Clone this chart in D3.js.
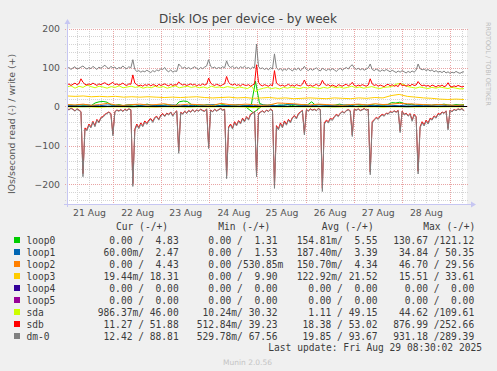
<!DOCTYPE html>
<meta charset="utf-8">
<style>
body{ margin:0; background:#f0f0f0; }
svg{ display:block; background:#f0f0f0; }
text{ font-family:"DejaVu Sans", sans-serif; }
.mono{ font-family:"DejaVu Sans Mono", monospace; font-size:9.6px; fill:#3c3c3c; white-space:pre; }
</style>
<svg width="497" height="371"></svg>
<script src="https://d3js.org/d3.v7.min.js"></script>
<script>

var names  = ["loop0","loop1","loop2","loop3","loop4","loop5","sda","sdb","dm-0"];
var colors = ["#00cc00","#0066b3","#ff8000","#ffcc00","#330099","#990099","#ccff00","#ff0000","#808080"];

// hourly samples (200), Aug 21 01:00 -> Aug 29 08:00
var dm0Write = [97,100,95,99,102,96,98,101,104,99, 96,100,97,103,99,95,101,98,102,106,
  100,97,103,99,101,96,100,98,104,99, 97,102,99,120,95,90,92,88,91,89,
  93,90,87,92,89,94,91,97,95,100, 92,89,94,88,91,90,109,103,98,101,
  97,100,96,99,102,98,95,100,97,101, 104,120,103,99,101,97,100,98,102,99,
  117,104,100,103,98,101,97,102,99,103, 98,100,96,101,99,160,102,97,99,95,
  98,94,100,96,135,99,94,97,92,96, 93,98,95,91,97,94,99,92,96,103,
  95,92,97,93,96,99,94,91,98,95, 92,96,93,97,94,90,95,98,93,97,
  100,96,103,107,99,95,98,94,97,93, 96,99,109,95,92,96,93,90,94,91,
  95,92,89,93,90,87,91,88,92,89, 86,90,87,91,88,93,109,97,94,96,
  92,95,91,94,89,92,88,90,87,91, 86,89,85,88,86,90,87,85,88,89];
var dm0Read = [6,9,5,8,12,7,10,14,180,58, 62,48,55,40,52,35,42,30,28,22,
  18,15,20,75,14,10,12,9,13,8, 11,7,9,205,62,48,57,45,52,40,
  46,38,33,41,30,27,35,24,20,26, 18,22,15,25,17,12,120,16,20,13,
  18,11,15,9,14,10,12,8,11,13, 7,108,10,14,8,12,9,6,10,8,
  185,55,48,58,42,50,38,45,32,40, 28,35,22,18,14,180,20,15,12,16,
  10,13,8,11,210,52,60,45,55,40, 48,35,42,30,25,32,20,15,11,73,
  9,12,7,10,8,11,6,9,218,45, 38,42,32,36,28,22,26,18,14,17,
  11,9,12,77,8,10,7,11,9,6, 10,8,175,42,35,30,33,26,22,25,
  18,20,14,16,12,15,11,67,13,22, 18,25,20,38,22,28,173,55,42,50,
  38,45,32,35,26,30,20,22,15,18, 12,60,10,14,8,11,7,9,6,12];
var sdbWrite = [55,58,54,57,60,56,59,71,62,57, 55,58,56,60,57,54,58,56,59,61,
  57,55,59,62,56,58,55,57,60,56, 54,58,57,81,60,56,53,55,52,56,
  54,57,53,56,55,52,57,54,56,58, 55,53,57,54,56,55,63,58,55,57,
  54,56,58,55,57,53,56,54,58,55, 57,73,60,56,54,57,55,53,56,58,
  77,62,57,55,58,54,56,53,57,55, 54,56,52,55,58,107,62,55,53,56,
  54,52,56,53,92,60,56,53,55,52, 54,57,53,55,52,56,54,53,57,68,
  56,53,55,52,54,57,53,55,67,58, 54,56,52,55,53,51,56,54,52,55,
  57,53,56,62,54,52,55,53,56,54, 52,55,71,58,54,56,52,55,53,51,
  55,57,53,56,52,54,51,60,53,55, 52,56,53,57,54,55,64,57,53,55,
  52,54,51,55,53,50,54,52,55,51, 53,61,52,50,53,51,54,52,50,52];
var sdbRead = [5,8,4,7,11,6,9,13,172,55, 59,45,52,38,49,33,40,28,26,20,
  17,14,18,71,13,9,11,8,12,7, 10,6,8,198,58,45,54,42,49,37,
  43,35,31,38,28,25,33,22,18,24, 17,20,14,23,16,11,114,15,18,12,
  17,10,14,8,13,9,11,7,10,12, 6,102,9,13,7,11,8,5,9,7,
  178,52,45,55,39,47,36,42,30,37, 26,33,20,17,13,172,18,14,11,15,
  9,12,7,10,202,49,57,42,52,37, 45,33,39,28,23,30,18,14,10,69,
  8,11,6,9,7,10,5,8,210,42, 35,39,30,33,26,20,24,17,13,16,
  10,8,11,73,7,9,6,10,8,5, 9,7,168,39,33,28,31,24,20,23,
  17,18,13,15,11,14,10,63,12,20, 17,23,18,35,20,26,166,52,39,47,
  35,42,30,33,24,28,18,20,14,17, 11,56,9,13,7,10,6,8,5,11];

// two-hourly samples (100)
var sdaWrite = [50,53,47,52,49,55,51,48,52,50, 47,51,49,53,48,50,52,49,51,47,
  50,48,52,49,51,47,50,53,48,50, 52,49,51,48,50,47,52,49,50,48,
  51,49,47,50,48,46,52,38,44,47, 49,46,48,45,49,47,50,48,46,49,
  47,50,48,46,49,47,51,48,50,47, 49,52,48,50,47,49,51,48,46,49,
  50,51,57,59,56,51,49,47,50,48, 46,49,47,50,48,46,49,47,45,46];
var loop0Write = [3,4,2,5,3,4,2,9,12,13, 11,4,3,5,2,4,3,5,2,4,
  6,3,2,4,3,5,3,2,12,14, 13,5,2,4,3,5,2,4,3,5,
  2,4,3,5,3,2,6,65,8,4, 3,5,2,4,3,5,2,4,3,5,
  4,12,3,5,4,3,2,4,6,3, 4,2,5,3,4,3,5,3,4,3,
  5,10,9,11,8,4,6,3,5,4, 4,3,5,4,6,4,3,5,4,5];

// four-hourly samples (50)
var loop1Write = [2,3,4,3,2,4,3,2,5,3, 4,2,3,4,3,2,4,3,5,2, 3,4,3,2,4,3,2,4,5,3,
  2,4,3,2,4,3,5,3,2,4, 3,2,4,3,2,3,4,2,3,2.5];
var loop2Write = [5,4,6,3,5,8,4,3,5,6, 4,5,7,3,4,6,5,4,3,8, 5,4,6,5,3,4,9,8,7,5,
  4,6,5,4,3,5,6,4,7,5, 6,8,7,6,5,4,5,4,3,4];
var loop3Write = [27,26,27,25,26,25,26,24,25,24, 25,24,23,24,23,24,25,23,22,23,
  24,22,23,21,22,23,21,22,20,21, 22,21,20,22,21,20,22,21,23,22,
  28,31,26,24,22,21,19,18,19,18];
var loop4Write = [0,0,0,0,0,0,0,0,0,0, 0,0,0,0,0,0,0,0,0,0, 0,0,0,0,0,0,0,0,0,0,
  0,0,0,0,0,0,0,0,0,0, 0,0,0,0,0,0,0,0,0,0];
var loop5Write = loop4Write;
var loop0Read = [0,0,0,0,0,0,0,0,0,0, 0,0,0,0,0,0,0,0,0,0, 0,0,0,16,0,0,0,0,0,0,
  0,0,0,0,0,0,0,0,0,0, 0,0,0,0,0,0,0,0,0,0];
var loop1Read = [0,0,0.5,0,0,0,0,0,1,0, 0,0,0,0,0,0.5,0,0,0,0, 0,0,0,2,0,0,0,0,0,0,
  0,0,0,0.5,0,0,0,0,0,0, 0,0,1,0,0,0,0,0,0,0];
var loop2Read = [0,0,0,0,0.5,0,0,0,0,0, 0,1,0,0,0,0,0,0,0,0, 0,0,0,2,0,0,0,0,0,0,
  0,0,0,0,0,0,0.5,0,0,0, 0,0,0,0,0,0,0,0,0,0];
var loop3Read = [0,0,0,0,0,0,0.5,0,0,0, 0,0,0,0,0,0,0,0,0,0, 0,0,0,1,0,0,0,0,0,0,
  0,0,0,0,0,0,0,0,0,0.5, 0,0,0,0,0,0,0,0,0,0];
var loop4Read = loop4Write;
var loop5Read = loop4Write;
var sdaRead = [1,1.5,0.8,1.2,2,1,0.7,1.3,1,0.9, 1.4,1,0.8,1.2,1,1.6,0.9,1.1,1,0.8,
  1.2,1,1.5,3,1,0.9,1.1,1.3,0.8,1, 1.2,0.9,1,1.4,1.1,0.8,1,1.2,0.9,1.5,
  1,1.1,0.8,1.3,1,0.9,1.2,1,0.8,1];

var writeData = [loop0Write, loop1Write, loop2Write, loop3Write, loop4Write, loop5Write, sdaWrite, sdbWrite, dm0Write];
var readData  = [loop0Read, loop1Read, loop2Read, loop3Read, loop4Read, loop5Read, sdaRead, sdbRead, dm0Read];

// legend table: [read, write]
var curVals = [[0,4.83],[0.06,2.47],[0,4.43],[0.01944,18.31],[0,0],[0,0],[0.98637,46.00],[11.27,51.88],[12.42,88.81]];
var minVals = [[0,1.31],[0,1.53],[0,0.53085],[0,9.90],[0,0],[0,0],[0.01024,30.32],[0.51284,39.23],[0.52978,67.56]];
var avgVals = [[0.15481,5.55],[0.18740,3.39],[0.15070,4.34],[0.12292,21.52],[0,0],[0,0],[1.11,49.15],[18.38,53.02],[19.85,93.67]];
var maxVals = [[130.67,121.12],[34.84,50.35],[46.70,29.56],[15.51,33.61],[0,0],[0,0],[44.62,109.61],[876.99,252.66],[931.18,289.39]];
var headers = ["Cur (-/+)","Min (-/+)","Avg (-/+)","Max (-/+)"];

var yTicks = [-200,-100,0,100,200];

var svg = d3.select("svg");

var t0 = new Date(2025,7,21,1,0),
    t1 = new Date(2025,7,29,7,0),
    tEnd = new Date(2025,7,29,8,30);

var x = d3.scaleTime().domain([t0, tEnd]).range([67, 467]);
var y = d3.scaleLinear().domain([-250, 200]).range([204, 28.5]);

function timeAt(i, n) {
  return new Date(+t0 + i * (t1 - t0) / (n - 1));
}

// canvas
svg.append("rect")
    .attr("x", 67).attr("y", 28.5)
    .attr("width", 400).attr("height", 175.5)
    .attr("fill", "#fff");

// grid
var grid = svg.append("g").attr("shape-rendering", "crispEdges");
var minorY = d3.range(-240, 201, 20).filter(function(v) { return v % 100 !== 0; });
grid.selectAll(".hmin").data(minorY).enter().append("line")
    .attr("x1", 65).attr("x2", 469)
    .attr("y1", function(d) { return Math.round(y(d)) + 0.5; })
    .attr("y2", function(d) { return Math.round(y(d)) + 0.5; })
    .attr("stroke", "#d4d4d4").attr("stroke-dasharray", "1,1");

var hours6 = d3.timeHour.every(6).range(t0, tEnd).filter(function(d) { return d.getHours() !== 0; });
grid.selectAll(".vmin").data(hours6).enter().append("line")
    .attr("y1", 28.5).attr("y2", 206)
    .attr("x1", function(d) { return Math.round(x(d)) + 0.5; })
    .attr("x2", function(d) { return Math.round(x(d)) + 0.5; })
    .attr("stroke", "#d4d4d4").attr("stroke-dasharray", "1,1");

grid.selectAll(".hmaj").data(yTicks).enter().append("line")
    .attr("x1", 65).attr("x2", 469)
    .attr("y1", function(d) { return Math.round(y(d)) + 0.5; })
    .attr("y2", function(d) { return Math.round(y(d)) + 0.5; })
    .attr("stroke", "#e8a4a4").attr("stroke-dasharray", "1,1");

var days = d3.timeDay.range(t0, tEnd);
grid.selectAll(".vmaj").data(days).enter().append("line")
    .attr("y1", 28.5).attr("y2", 206)
    .attr("x1", function(d) { return Math.round(x(d)) + 0.5; })
    .attr("x2", function(d) { return Math.round(x(d)) + 0.5; })
    .attr("stroke", "#e8a4a4").attr("stroke-dasharray", "1,1");

// series
var lineW = d3.line()
    .x(function(d, i, arr) { return x(timeAt(i, arr.length)); })
    .y(function(d) { return y(d); });
var lineR = d3.line()
    .x(function(d, i, arr) { return x(timeAt(i, arr.length)); })
    .y(function(d) { return y(-d); });

var plot = svg.append("g");
names.forEach(function(n, k) {
  plot.append("path").attr("d", lineR(readData[k]))
      .attr("fill", "none").attr("stroke", colors[k]).attr("stroke-width", 1);
  plot.append("path").attr("d", lineW(writeData[k]))
      .attr("fill", "none").attr("stroke", colors[k]).attr("stroke-width", 1);
});

plot.append("line")
    .attr("x1", 67).attr("x2", 467)
    .attr("y1", y(0)).attr("y2", y(0))
    .attr("stroke", "#000").attr("stroke-width", 1.2);

// axes lines + arrows
var axisCol = "#c6c6f2";
svg.append("line").attr("x1", 64).attr("x2", 472).attr("y1", 204.5).attr("y2", 204.5)
    .attr("stroke", axisCol);
svg.append("line").attr("x1", 67.5).attr("x2", 67.5).attr("y1", 207).attr("y2", 23)
    .attr("stroke", axisCol);
svg.append("path").attr("d", "M471,201.5L476,204.5L471,207.5Z").attr("fill", axisCol);
svg.append("path").attr("d", "M64.5,24L67.5,19L70.5,24Z").attr("fill", axisCol);

// tick labels via axes
var yAxis = svg.append("g")
    .attr("transform", "translate(63,0)")
    .call(d3.axisLeft(y).tickValues(yTicks).tickSize(0).tickPadding(3));
yAxis.select(".domain").remove();
yAxis.selectAll("text")
    .attr("font-family", "DejaVu Sans").attr("font-size", "9.3px").attr("fill", "#555");

var noons = d3.timeDay.range(new Date(2025,7,21), new Date(2025,7,29))
    .map(function(d) { return d3.timeHour.offset(d, 12); });
var xAxis = svg.append("g")
    .attr("transform", "translate(0,206)")
    .call(d3.axisBottom(x).tickValues(noons).tickSize(0).tickPadding(3)
      .tickFormat(d3.timeFormat("%-d %b")));
xAxis.select(".domain").remove();
xAxis.selectAll("text")
    .attr("font-family", "DejaVu Sans").attr("font-size", "9.3px").attr("fill", "#555");

// title & side labels
svg.append("text").attr("x", 248).attr("y", 23).attr("text-anchor", "middle")
    .attr("font-size", "12px").attr("fill", "#444")
    .text("Disk IOs per device - by week");

svg.append("text")
    .attr("transform", "translate(14.5,124) rotate(-90)")
    .attr("text-anchor", "middle").attr("font-size", "9.4px").attr("fill", "#555")
    .text("IOs/second read (-) / write (+)");

svg.append("text")
    .attr("transform", "translate(486,22) rotate(90)")
    .attr("font-size", "6.5px").attr("fill", "#bdbdbd")
    .text("RRDTOOL / TOBI OETIKER");

// legend
function fmt(v) {
  var s, suf = " ";
  if (v !== 0 && Math.abs(v) < 1) { v = v * 1000; suf = "m"; }
  s = v.toFixed(2);
  while (s.length < 6) s = " " + s;
  return s + suf;
}
function cell(p) { return fmt(p[0]) + "/" + fmt(p[1]); }

var headerX = [116, 218.3, 321.7, 423.3];
var colX = [97.8, 196.7, 296.7, 393.3];
var legend = svg.append("g");

legend.selectAll(".hdr").data(headers).enter().append("text")
    .attr("class", "mono")
    .attr("x", function(d, i) { return headerX[i]; })
    .attr("y", 230)
    .text(function(d) { return d; });

var rowY = function(i) { return 243.5 + i * 12; };
var stats = [curVals, minVals, avgVals, maxVals];

names.forEach(function(n, i) {
  legend.append("rect")
      .attr("x", 14).attr("y", rowY(i) - 6.5)
      .attr("width", 6).attr("height", 6)
      .attr("fill", colors[i]);
  legend.append("text").attr("class", "mono")
      .attr("x", 26.5).attr("y", rowY(i)).text(n);
  stats.forEach(function(st, c) {
    legend.append("text").attr("class", "mono")
        .attr("x", colX[c]).attr("y", rowY(i))
        .text(cell(st[i]));
  });
});

legend.append("text").attr("class", "mono")
    .attr("x", 482).attr("y", 351).attr("text-anchor", "end")
    .text("Last update: Fri Aug 29 08:30:02 2025");

svg.append("text").attr("x", 247.5).attr("y", 364.5).attr("text-anchor", "middle")
    .attr("font-size", "7.5px").attr("fill", "#c4c4c4")
    .text("Munin 2.0.56");

</script>
